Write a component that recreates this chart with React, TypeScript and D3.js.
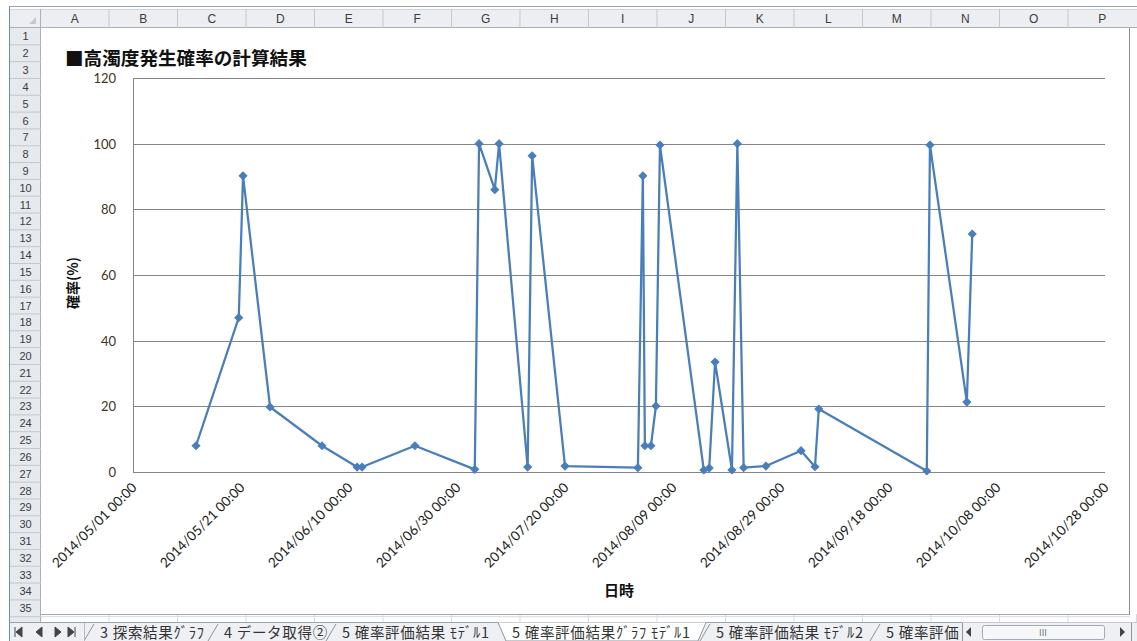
import React from "react";
import * as d3 from "d3";

// 計算日時と確率(%)
const dates = [
  "2014-05-12T16:00", "2014-05-20T14:00", "2014-05-21T09:00", "2014-05-26T09:00",
  "2014-06-05T00:00", "2014-06-11T12:00", "2014-06-12T10:00", "2014-06-22T05:00",
  "2014-07-03T07:00", "2014-07-04T02:00", "2014-07-07T00:00", "2014-07-07T19:00",
  "2014-07-13T02:00", "2014-07-13T22:00", "2014-07-20T00:00", "2014-08-02T12:00",
  "2014-08-03T10:00", "2014-08-03T19:00", "2014-08-04T22:00", "2014-08-05T20:00",
  "2014-08-06T14:00", "2014-08-14T17:00", "2014-08-15T17:00", "2014-08-16T19:00",
  "2014-08-19T22:00", "2014-08-20T22:00", "2014-08-22T02:00", "2014-08-26T05:00",
  "2014-09-01T17:00", "2014-09-04T07:00", "2014-09-05T00:00", "2014-09-25T00:00",
  "2014-09-25T14:00", "2014-10-02T10:00", "2014-10-03T10:00",
];
const probs = [
  8, 47, 90.2, 19.8, 8, 1.5, 1.5, 8, 0.8, 100, 86, 100, 1.5, 96.3, 1.8, 1.3,
  90.2, 8, 8, 20.1, 99.6, 0.6, 1.2, 33.5, 0.6, 100, 1.3, 1.8, 6.5, 1.6, 19.2,
  0.3, 99.6, 21.3, 72.5,
];
const xTickLabels = [
  "2014/05/01 00:00", "2014/05/21 00:00", "2014/06/10 00:00", "2014/06/30 00:00",
  "2014/07/20 00:00", "2014/08/09 00:00", "2014/08/29 00:00", "2014/09/18 00:00",
  "2014/10/08 00:00", "2014/10/28 00:00",
];
const yTicks = [0, 20, 40, 60, 80, 100, 120];
const columns = ["A", "B", "C", "D", "E", "F", "G", "H", "I", "J", "K", "L", "M", "N", "O", "P"];
const sheetTabs = [
  "3 探索結果ｸﾞﾗﾌ", "4 データ取得②", "5 確率評価結果 ﾓﾃﾞﾙ1",
  "5 確率評価結果ｸﾞﾗﾌ ﾓﾃﾞﾙ1", "5 確率評価結果 ﾓﾃﾞﾙ2", "5 確率評価",
];
const activeTab = 3;

const W = 1137;
const H = 641;
const jp = "'Noto Sans CJK JP', sans-serif";
const latin = "Lato, 'Open Sans', sans-serif";

function parseTick(s: string) {
  return d3.timeParse("%Y/%m/%d %H:%M")(s) as Date;
}

export default function App() {
  const parse = d3.timeParse("%Y-%m-%dT%H:%M");
  const data = dates.map((d, i) => ({ t: parse(d) as Date, v: probs[i] }));
  const tickDates = xTickLabels.map(parseTick);

  const x = d3
    .scaleTime()
    .domain([tickDates[0], tickDates[tickDates.length - 1]])
    .range([133, 1105]);
  const y = d3.scaleLinear().domain([0, 120]).range([472, 78]);

  const line = d3
    .line<{ t: Date; v: number }>()
    .x((d) => x(d.t))
    .y((d) => y(d.v));
  const diamond = d3.symbol(d3.symbolSquare, 30)() as string;

  // Excel sheet grid
  const colX = d3.scaleLinear().domain([0, 1]).range([40.5, 109]);
  const rowTop = 28;
  const rowH = 16.82;
  const rows = d3.range(1, 37);

  // tab positions (left edge of text)
  const tabX = [100, 224, 342, 512, 716, 886];

  return (
    <svg width={W} height={H} style={{ position: "absolute", left: 0, top: 0, background: "#fff" }}>
      <defs>
        <clipPath id="tabclip">
          <rect x={85} y={622} width={877} height={19} />
        </clipPath>
      </defs>
      {/* frame */}
      <rect x={0} y={0} width={W} height={H} fill="#fff" />
      <line x1={9} x2={W} y1={6.5} y2={6.5} stroke="#9aa3ad" />
      <line x1={9.5} x2={9.5} y1={6} y2={H} stroke="#6d8fb8" />

      {/* column header */}
      <rect x={10} y={9} width={W - 10} height={19} fill="#eceef1" />
      <line x1={10} x2={W} y1={27.5} y2={27.5} stroke="#a9b0ba" />
      <line x1={10} x2={W} y1={9.5} y2={9.5} stroke="#cfd4da" />
      <path d="M36,24 L36,17 L29,24 Z" fill="#c4c9cf" />
      {columns.map((c, i) => (
        <g key={c}>
          <line x1={colX(i)} x2={colX(i)} y1={9} y2={28} stroke="#c3c8cf" />
          <text x={colX(i + 0.5)} y={19} textAnchor="middle" dominantBaseline="central"
            fontFamily="'Liberation Sans', sans-serif" fontSize={12} fill="#3c3c3c">{c}</text>
        </g>
      ))}

      {/* row header */}
      <rect x={10} y={28} width={31} height={594} fill="#e6e9ee" />
      <line x1={40.5} x2={40.5} y1={9} y2={622} stroke="#a9b0ba" />
      {rows.map((r) => (
        <g key={r}>
          <line x1={10} x2={41} y1={rowTop + r * rowH} y2={rowTop + r * rowH} stroke="#c3c8cf" />
          {r < 36 && (
            <text x={25.5} y={rowTop + (r - 0.5) * rowH} textAnchor="middle" dominantBaseline="central"
              fontFamily="'Liberation Sans', sans-serif" fontSize={11} fill="#3c3c3c">{r}</text>
          )}
        </g>
      ))}

      {/* cell grid visible below chart */}
      {columns.map((c, i) => (
        <line key={c} x1={colX(i + 1)} x2={colX(i + 1)} y1={614} y2={622} stroke="#d6dbe2" />
      ))}
      <line x1={41} x2={1130} y1={rowTop + 35 * rowH} y2={rowTop + 35 * rowH} stroke="#d6dbe2" />

      {/* chart object */}
      <rect x={41} y={28} width={1089} height={586.5} fill="#fff" />
      <line x1={41} x2={1130} y1={614.5} y2={614.5} stroke="#a8a8a8" />
      <line x1={1129.5} x2={1129.5} y1={28} y2={615} stroke="#8e8e8e" />

      <text x={65} y={56} dominantBaseline="central" fontFamily={jp} fontWeight="bold"
        fontSize={18.6} fill="#111">■高濁度発生確率の計算結果</text>

      {/* gridlines */}
      {yTicks.map((t) => (
        <g key={t}>
          <line x1={133} x2={1105} y1={Math.round(y(t)) + 0.5} y2={Math.round(y(t)) + 0.5}
            stroke="#868686" strokeWidth={1} />
          <text x={116} y={y(t)} textAnchor="end" dominantBaseline="central"
            fontFamily={latin} fontSize={13} fill="#3d3520">{t}</text>
        </g>
      ))}
      <line x1={133.5} x2={133.5} y1={y(120)} y2={y(0)} stroke="#868686" />

      {tickDates.map((d, i) => (
        <text key={i} transform={`translate(${x(d) + 1},${485}) rotate(-45)`} textAnchor="end"
          dominantBaseline="central" fontFamily={latin} fontSize={13.5} fill="#1a1a1a">
          {xTickLabels[i]}
        </text>
      ))}

      <text transform={`translate(72,${283}) rotate(-90)`} textAnchor="middle" dominantBaseline="central"
        fontFamily={jp} fontWeight="bold" fontSize={14} fill="#111">確率(%)</text>
      <text x={619} y={589} textAnchor="middle" dominantBaseline="central"
        fontFamily={jp} fontWeight="bold" fontSize={15} fill="#111">日時</text>

      {/* series */}
      <path d={line(data) as string} fill="none" stroke="#4a7ebb" strokeWidth={2.25} strokeLinejoin="round" />
      {data.map((d, i) => (
        <path key={i} d={diamond} transform={`translate(${x(d.t)},${y(d.v)}) rotate(45)`}
          fill="#4a7ebb" stroke="#4a7ebb" strokeWidth={1} />
      ))}

      {/* sheet tab bar */}
      <rect x={10} y={622} width={W - 10} height={19} fill="#eef0f3" />
      <line x1={10} x2={W} y1={622.5} y2={622.5} stroke="#9ba3ad" />
      {["M15,627 v10 M22,627 l-6,5 l6,5 Z", "M42,627 l-6,5 l6,5 Z", "M55,627 l6,5 l-6,5 Z",
        "M68,627 l6,5 l-6,5 Z M75,627 v10"].map((p, i) => (
        <path key={i} d={p} fill="#444" stroke="#444" strokeWidth={1} />
      ))}
      <line x1={84.5} x2={84.5} y1={623} y2={641} stroke="#b5bcc5" />
      <g clipPath="url(#tabclip)">
        {sheetTabs.map((t, i) => {
          const left = tabX[i] - 10;
          const right = i + 1 < tabX.length ? tabX[i + 1] - 14 : 962;
          return (
            <g key={i}>
              {i === activeTab ? (
                <path d={`M${left - 4},622.5 L${left + 4},641 L${right - 4},641 L${right + 4},622.5`}
                  fill="#fff" stroke="#8d949c" />
              ) : (
                <line x1={left - 6} x2={left + 4} y1={641} y2={624} stroke="#8d949c" />
              )}
              <text x={tabX[i]} y={631.5} dominantBaseline="central" fontFamily={jp}
                fontSize={14.5} letterSpacing={0.7} fill="#333">{t}</text>
            </g>
          );
        })}
      </g>
      <rect x={962} y={622.5} width={W - 962} height={18.5} fill="#eef0f3" />
      <line x1={962.5} x2={962.5} y1={623} y2={641} stroke="#8d949c" />
      <path d="M971,627 l-5,5 l5,5 Z" fill="#444" />
      <rect x={982.5} y={625.5} width={122} height={14} fill="#f6f7f9" stroke="#a4abb4" rx={2} />
      <text x={1043} y={633} textAnchor="middle" dominantBaseline="central" fontSize={9}
        fontFamily="'DejaVu Sans', sans-serif" fill="#777">III</text>
      <path d="M1120,627 l5,5 l-5,5 Z" fill="#444" />
      <line x1={1131.5} x2={1131.5} y1={623} y2={641} stroke="#8d949c" />
    </svg>
  );
}
